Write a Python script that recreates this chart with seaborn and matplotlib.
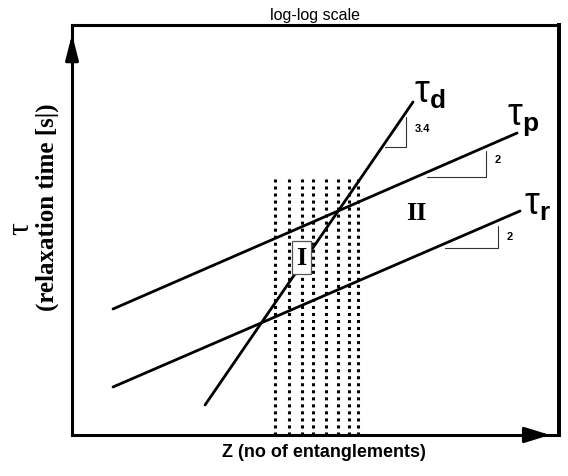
import matplotlib
matplotlib.use("Agg")
import matplotlib.pyplot as plt
import numpy as np
import pandas as pd
import seaborn as sns

# Schematic relaxation times on log-log axes (log10 units, arbitrary origin)
series_names = ["tau_p", "tau_r", "tau_d"]
log_z_start = [0.842, 0.842, 2.731]
log_z_end = [9.138, 9.199, 7.002]
log_tau_start = [3.071, 1.170, 0.731]
log_tau_end = [7.360, 5.459, 8.116]
series_labels = [r"$\tau_{\mathbf{p}}$", r"$\tau_{\mathbf{r}}$", r"$\tau_{\mathbf{d}}$"]
label_x = [9.271, 9.548, 7.351]
label_y = [7.702, 5.630, 8.348]

# Slope triangles: (corner x, left x of base, top y of riser, base y)
tri_corner_x = [8.501, 8.747, 6.858]
tri_left_x = [7.290, 7.659, 6.427]
tri_top_y = [6.922, 5.094, 7.750]
tri_base_y = [6.288, 4.558, 7.019]
slope_text = ["2", "2", "3.4"]
slope_x = [8.747, 8.994, 7.187]
slope_y = [6.727, 4.850, 7.494]

# Dotted verticals marking the crossover region
dotted_x = [4.168, 4.456, 4.723, 4.949, 5.216, 5.462, 5.688, 5.873]
dotted_top = 6.239

# Region markers
region_text = ["I", "II"]
region_x = [4.713, 7.064]
region_y = [4.326, 5.423]

sns.set_theme(style="white")
plt.rcParams["font.family"] = ["Liberation Sans", "DejaVu Sans"]
plt.rcParams["text.color"] = "black"
plt.rcParams["mathtext.fontset"] = "custom"
plt.rcParams["mathtext.rm"] = "Liberation Sans"
plt.rcParams["mathtext.bf"] = "Liberation Sans:bold"
plt.rcParams["mathtext.default"] = "regular"

fig = plt.figure(figsize=(5.68, 4.77), dpi=100)
ax = fig.add_axes([0.1268, 0.0860, 0.8574, 0.8601])

rows = []
for name, x0, x1, y0, y1 in zip(series_names, log_z_start, log_z_end, log_tau_start, log_tau_end):
    rows.append({"series": name, "logZ": x0, "logtau": y0})
    rows.append({"series": name, "logZ": x1, "logtau": y1})
df = pd.DataFrame(rows)

sns.lineplot(data=df, x="logZ", y="logtau", hue="series", palette=["black"] * 3,
             legend=False, linewidth=2.0, ax=ax, sort=False)

for lab, x, y in zip(series_labels, label_x, label_y):
    ax.text(x, y, lab, fontsize=27, ha="center", va="center", color="black")

for cx, lx, ty, by in zip(tri_corner_x, tri_left_x, tri_top_y, tri_base_y):
    ax.plot([lx, cx, cx], [by, by, ty], color="#333333", linewidth=0.8)

for t, x, y in zip(slope_text, slope_x, slope_y):
    ax.text(x, y, t, fontsize=8, fontweight="bold", ha="center", va="center")

for x in dotted_x:
    ax.plot([x, x], [0, dotted_top], color="black", linewidth=2.2,
            linestyle=(0, (1, 1.3)), dash_capstyle="butt", zorder=1)

ax.text(region_x[0], region_y[0], region_text[0], fontsize=19, fontweight="bold",
        family="Liberation Serif", ha="center", va="center", zorder=5,
        bbox=dict(boxstyle="square,pad=0.18", facecolor="white", edgecolor="#555555", linewidth=0.9))
ax.text(region_x[1], region_y[1], region_text[1], fontsize=19, fontweight="bold",
        family="Liberation Serif", ha="center", va="center")

ax.set_xlim(0, 10)
ax.set_ylim(0, 10)
ax.set_xticks([])
ax.set_yticks([])
ax.set_xlabel("")
ax.set_ylabel("")

for side, lw in [("left", 2.2), ("bottom", 2.2), ("top", 2.2), ("right", 2.9)]:
    ax.spines[side].set_visible(True)
    ax.spines[side].set_linewidth(lw)
    ax.spines[side].set_color("black")

# Arrowheads on the two axes
ax.annotate("", xy=(0, 0.977), xytext=(0, 0.924), xycoords="axes fraction",
            arrowprops=dict(arrowstyle="-|>,head_length=0.55,head_width=0.14",
                            mutation_scale=28, color="black", lw=2.2,
                            shrinkA=0, shrinkB=0), annotation_clip=False)
ax.annotate("", xy=(0.9815, 0), xytext=(0.936, 0), xycoords="axes fraction",
            arrowprops=dict(arrowstyle="-|>,head_length=0.55,head_width=0.17",
                            mutation_scale=28, color="black", lw=2.2,
                            shrinkA=0, shrinkB=0), annotation_clip=False)

fig.text(0.555, 0.967, "log-log scale", fontsize=11.5, ha="center", va="center")
fig.text(0.570, 0.052, "Z (no of entanglements)", fontsize=13, fontweight="bold",
         ha="center", va="center")
fig.text(0.036, 0.52, "τ", fontsize=23, family="Liberation Serif",
         rotation=90, ha="center", va="center")
fig.text(0.084, 0.566, "(relaxation time [s|)", fontsize=18, fontweight="bold",
         family="Liberation Serif", rotation=90, ha="center", va="center")

fig.savefig("out.png", dpi=100)
